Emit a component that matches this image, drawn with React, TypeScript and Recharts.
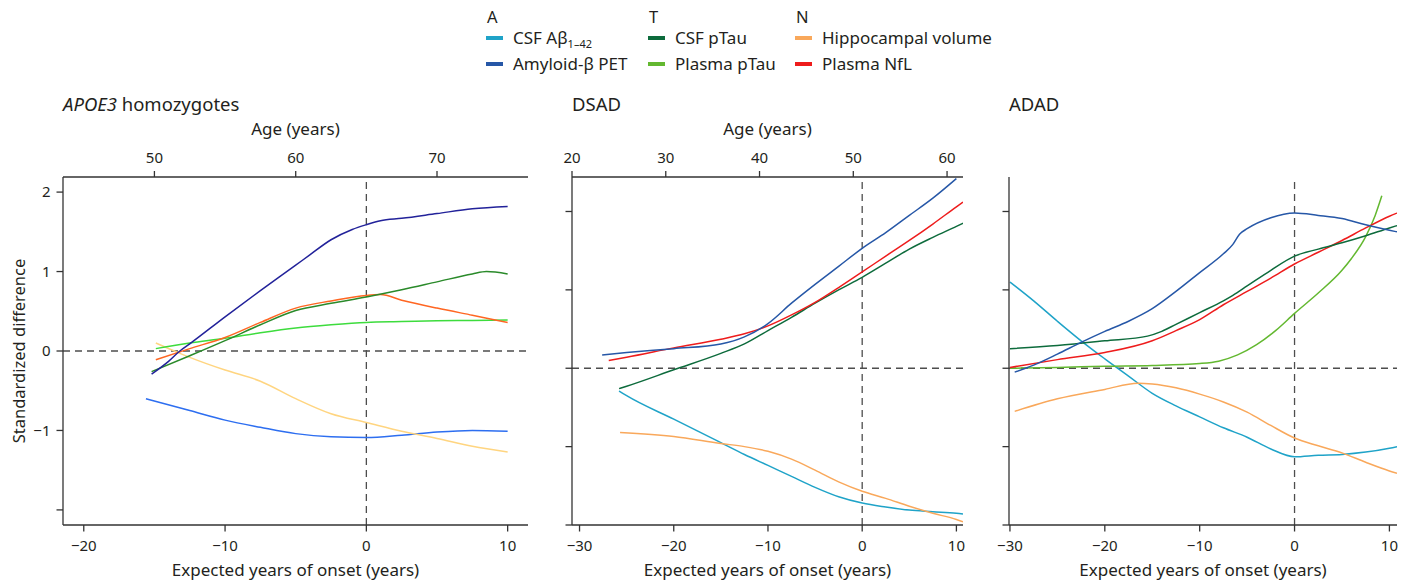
import React from 'react';
import { LineChart, Line, XAxis, YAxis, ReferenceLine } from 'recharts';

const FONT = '"Noto Sans", "Open Sans", sans-serif';
const INK = '#231f20';
const AXIS = '#333333';

type Pt = { x: number; y: number };
const pts = (rows: number[][]): Pt[] => rows.map(([x, y]) => ({ x, y }));

// ---- APOE3 homozygotes (expected years of onset, standardized difference)
const apoeAmyloidPet = pts([[-15.2, -0.29], [-14, -0.13], [-13.2, 0], [-12.5, 0.09], [-10, 0.43], [-7.5, 0.76], [-5, 1.08], [-4, 1.21], [-2.5, 1.4], [-1, 1.53], [0, 1.59], [1, 1.64], [2.5, 1.67], [5, 1.73], [7.5, 1.79], [10, 1.82]]);
const apoeCsfAb = pts([[-15.6, -0.6], [-12.5, -0.75], [-10, -0.87], [-7.5, -0.96], [-5, -1.04], [-2.5, -1.08], [0, -1.09], [2.5, -1.06], [5, -1.02], [7.5, -1.0], [10, -1.01]]);
const apoeHippo = pts([[-14.9, 0.1], [-13.2, -0.03], [-12.5, -0.08], [-10, -0.24], [-7.5, -0.38], [-5, -0.6], [-2.5, -0.79], [0, -0.9], [2.5, -1.01], [5, -1.1], [7.5, -1.2], [10, -1.27]]);
const apoeNfl = pts([[-14.9, -0.11], [-12.5, 0.03], [-10, 0.17], [-7.5, 0.36], [-5, 0.54], [-2.5, 0.63], [0, 0.7], [1, 0.71], [2.5, 0.64], [5, 0.54], [7.5, 0.45], [10, 0.36]]);
const apoeCsfPtau = pts([[-15.2, -0.26], [-12.5, -0.06], [-10, 0.13], [-7.5, 0.33], [-5, 0.51], [-2.5, 0.6], [0, 0.68], [2.5, 0.77], [5, 0.87], [7.5, 0.97], [8.5, 1.0], [10, 0.97]]);
const apoePlasmaPtau = pts([[-14.9, 0.03], [-12.5, 0.1], [-10, 0.16], [-7.5, 0.23], [-5, 0.29], [-2.5, 0.33], [0, 0.36], [2.5, 0.37], [5, 0.38], [7.5, 0.385], [10, 0.39]]);

// ---- DSAD
const dsadAmyloidPet = pts([[-27.6, 0.17], [-25, 0.2], [-20, 0.25], [-15, 0.31], [-12.5, 0.4], [-10, 0.57], [-7.5, 0.83], [-5, 1.07], [-2.5, 1.3], [0, 1.53], [2.5, 1.73], [5, 1.95], [7.5, 2.17], [10, 2.42]]);
const dsadNfl = pts([[-26.9, 0.1], [-25, 0.14], [-20, 0.26], [-15, 0.37], [-12.5, 0.44], [-10, 0.54], [-7.5, 0.68], [-5, 0.84], [-2.5, 1.03], [0, 1.23], [2.5, 1.43], [5, 1.63], [7.5, 1.84], [10, 2.06], [10.7, 2.12]]);
const dsadCsfPtau = pts([[-25.8, -0.26], [-25, -0.23], [-20, -0.02], [-15, 0.19], [-12.5, 0.31], [-10, 0.48], [-7.5, 0.65], [-5, 0.83], [-2.5, 1.0], [0, 1.16], [2.5, 1.34], [5, 1.52], [7.5, 1.67], [10, 1.81], [10.7, 1.85]]);
const dsadCsfAb = pts([[-25.8, -0.29], [-25, -0.35], [-20, -0.65], [-15, -0.95], [-12.5, -1.1], [-10, -1.24], [-7.5, -1.38], [-5, -1.52], [-2.5, -1.64], [0, -1.72], [2.5, -1.77], [5, -1.81], [7.5, -1.83], [10, -1.85], [10.7, -1.86]]);
const dsadHippo = pts([[-25.7, -0.82], [-20, -0.87], [-15, -0.96], [-12.5, -1.0], [-10, -1.06], [-7.5, -1.16], [-5, -1.3], [-2.5, -1.45], [0, -1.57], [2.5, -1.66], [5, -1.76], [7.5, -1.85], [10, -1.93], [10.7, -1.96]]);

// ---- ADAD
const adadAmyloidPet = pts([[-29.5, -0.05], [-27.5, 0.04], [-25, 0.18], [-22.5, 0.33], [-20, 0.47], [-17.5, 0.6], [-15, 0.76], [-12.5, 0.98], [-10, 1.22], [-7.5, 1.46], [-6.5, 1.58], [-5.8, 1.71], [-5, 1.78], [-2.5, 1.92], [0, 1.98], [2.5, 1.95], [5, 1.91], [7.5, 1.83], [10, 1.76], [10.8, 1.74]]);
const adadCsfPtau = pts([[-30, 0.25], [-25, 0.29], [-20, 0.35], [-15.5, 0.41], [-14, 0.47], [-12.5, 0.56], [-10, 0.71], [-7.5, 0.86], [-6.5, 0.93], [-5, 1.05], [-2.5, 1.25], [0, 1.43], [2.5, 1.52], [5, 1.6], [7.5, 1.69], [10, 1.79], [10.8, 1.82]]);
const adadNfl = pts([[-30, 0.01], [-25, 0.11], [-20, 0.2], [-15, 0.35], [-12.5, 0.48], [-10, 0.62], [-7.5, 0.81], [-5, 0.98], [-2.5, 1.15], [0, 1.33], [2.5, 1.48], [5, 1.63], [7.5, 1.79], [10, 1.94], [10.8, 1.98]]);
const adadPlasmaPtau = pts([[-30, 0.0], [-25, 0.01], [-20, 0.025], [-15, 0.035], [-10, 0.06], [-8, 0.09], [-6, 0.17], [-4, 0.3], [-2, 0.48], [0, 0.7], [2.5, 0.96], [5, 1.25], [6, 1.4], [7.5, 1.68], [8.5, 1.95], [9.2, 2.2]]);
const adadCsfAb = pts([[-30, 1.1], [-27.5, 0.86], [-25, 0.6], [-22.5, 0.35], [-20, 0.12], [-17.5, -0.1], [-15, -0.32], [-12.5, -0.48], [-10, -0.62], [-7.5, -0.76], [-5, -0.88], [-2.5, -1.03], [0, -1.13], [2.5, -1.11], [5, -1.1], [7.5, -1.07], [10, -1.02], [10.8, -1.0]]);
const adadHippo = pts([[-29.5, -0.55], [-25, -0.39], [-20, -0.27], [-16.5, -0.19], [-15, -0.2], [-12.5, -0.25], [-10, -0.33], [-7.5, -0.43], [-5, -0.56], [-2.5, -0.73], [0, -0.89], [2.5, -0.99], [5, -1.08], [7.5, -1.2], [10, -1.31], [10.8, -1.34]]);

// legend colours (DSAD / ADAD), APOE3 panel uses its own palette
const C = {
  csfAb: '#1fa3c8',
  pet: '#2657a7',
  csfPtau: '#0d6b3c',
  plasmaPtau: '#63b830',
  hippo: '#f9a85b',
  nfl: '#ee1c1c',
};
const APOE_C = {
  csfAb: '#2d6ef0',
  pet: '#22229a',
  csfPtau: '#2a8a2a',
  plasmaPtau: '#3ddc3d',
  hippo: '#ffd580',
  nfl: '#ff6622',
};

const legendGroups = [
  { head: 'A', x: 486, items: [{ label: 'CSF Aβ', sub: '1–42', color: C.csfAb }, { label: 'Amyloid-β PET', color: C.pet }] },
  { head: 'T', x: 648, items: [{ label: 'CSF pTau', color: C.csfPtau }, { label: 'Plasma pTau', color: C.plasmaPtau }] },
  { head: 'N', x: 795, items: [{ label: 'Hippocampal volume', color: C.hippo }, { label: 'Plasma NfL', color: C.nfl }] },
];

const xTicksApoe = [-20, -10, 0, 10];
const xTicksWide = [-30, -20, -10, 0, 10];
const yTicks = [-2, -1, 0, 1, 2];
const ageTicksApoe = [50, 60, 70];
const ageTicksDsad = [20, 30, 40, 50, 60];

const minus = (v: number) => (v < 0 ? `\u2212${Math.abs(v)}` : String(v));

type Series = { name: string; color: string; data: Pt[] };

interface PanelProps {
  left: number;
  width: number;
  title: React.ReactNode;
  series: Series[];
  xDomain: [number, number];
  xTicks: number[];
  yDomain: [number, number];
  yAxisWidth: number;
  marginRight: number;
  ageDomain?: [number, number];
  ageTicks?: number[];
  yLabels?: boolean;
}

function Panel({ left, width, title, series, xDomain, xTicks, yDomain, yAxisWidth, marginRight, ageDomain, ageTicks, yLabels }: PanelProps) {
  const tickStyle = { fontSize: 15, fill: INK, fontFamily: FONT };
  return (
    <div style={{ position: 'absolute', left, top: 80 }}>
      <div style={{ position: 'absolute', left: yAxisWidth, top: 12, fontSize: 18.5, lineHeight: '24px', whiteSpace: 'nowrap', color: INK }}>
        {title}
      </div>
      <LineChart width={width} height={500} margin={{ top: ageDomain ? 57 : 97, right: marginRight, bottom: 0, left: 0 }}>
        <XAxis
          xAxisId="eyo"
          dataKey="x"
          type="number"
          domain={xDomain}
          ticks={xTicks}
          allowDataOverflow
          height={55}
          tickSize={6.5}
          tickMargin={8.5}
          tick={tickStyle}
          tickFormatter={minus}
          stroke={AXIS}
          strokeWidth={1.3}
          label={{ value: 'Expected years of onset (years)', position: 'insideBottom', offset: 4, fontSize: 17, fill: INK, fontFamily: FONT }}
        />
        {ageDomain && (
          <XAxis
            xAxisId="age"
            dataKey="x"
            orientation="top"
            type="number"
            domain={ageDomain}
            ticks={ageTicks}
            allowDataOverflow
            height={40}
            tickSize={6}
            tickMargin={8}
            tick={tickStyle}
            stroke={AXIS}
            strokeWidth={1.3}
            label={{ value: 'Age (years)', position: 'top', offset: 2, fontSize: 17, fill: INK, fontFamily: FONT }}
          />
        )}
        <YAxis
          type="number"
          domain={yDomain}
          ticks={yTicks}
          allowDataOverflow
          width={yAxisWidth}
          tickSize={6.5}
          tickMargin={6}
          tick={tickStyle}
          tickFormatter={(v: number) => (yLabels && v !== -2 ? minus(v) : '')}
          stroke={AXIS}
          strokeWidth={1.3}
          label={yLabels ? { value: 'Standardized difference', angle: -90, position: 'insideLeft', offset: 19, fontSize: 16.5, fill: INK, fontFamily: FONT, style: { textAnchor: 'middle' } } : undefined}
        />
        <ReferenceLine xAxisId="eyo" y={0} stroke="#4d4d4d" strokeWidth={1.3} strokeDasharray="7 5" />
        <ReferenceLine xAxisId="eyo" x={0} stroke="#4d4d4d" strokeWidth={1.3} strokeDasharray="7 5" />
        {ageDomain && ageTicks && (
          // invisible carrier so the top age axis gets a scale
          <Line
            xAxisId="age"
            data={ageTicks.map((a) => ({ x: a, y: 0 }))}
            dataKey="y"
            stroke="none"
            dot={false}
            activeDot={false}
            legendType="none"
            isAnimationActive={false}
          />
        )}
        {series.map((s) => (
          <Line
            key={s.name}
            xAxisId="eyo"
            data={s.data}
            dataKey="y"
            name={s.name}
            type="monotone"
            stroke={s.color}
            strokeWidth={1.5}
            dot={false}
            activeDot={false}
            isAnimationActive={false}
          />
        ))}
      </LineChart>
    </div>
  );
}

export default function App() {
  const apoeSeries: Series[] = [
    { name: 'CSF Aβ1–42', color: APOE_C.csfAb, data: apoeCsfAb },
    { name: 'Hippocampal volume', color: APOE_C.hippo, data: apoeHippo },
    { name: 'Plasma pTau', color: APOE_C.plasmaPtau, data: apoePlasmaPtau },
    { name: 'Plasma NfL', color: APOE_C.nfl, data: apoeNfl },
    { name: 'CSF pTau', color: APOE_C.csfPtau, data: apoeCsfPtau },
    { name: 'Amyloid-β PET', color: APOE_C.pet, data: apoeAmyloidPet },
  ];
  const dsadSeries: Series[] = [
    { name: 'CSF Aβ1–42', color: C.csfAb, data: dsadCsfAb },
    { name: 'Hippocampal volume', color: C.hippo, data: dsadHippo },
    { name: 'CSF pTau', color: C.csfPtau, data: dsadCsfPtau },
    { name: 'Plasma NfL', color: C.nfl, data: dsadNfl },
    { name: 'Amyloid-β PET', color: C.pet, data: dsadAmyloidPet },
  ];
  const adadSeries: Series[] = [
    { name: 'CSF Aβ1–42', color: C.csfAb, data: adadCsfAb },
    { name: 'Hippocampal volume', color: C.hippo, data: adadHippo },
    { name: 'Plasma pTau', color: C.plasmaPtau, data: adadPlasmaPtau },
    { name: 'Plasma NfL', color: C.nfl, data: adadNfl },
    { name: 'CSF pTau', color: C.csfPtau, data: adadCsfPtau },
    { name: 'Amyloid-β PET', color: C.pet, data: adadAmyloidPet },
  ];

  return (
    <div style={{ position: 'relative', width: 1407, height: 581, background: '#fff', fontFamily: FONT, color: INK, overflow: 'hidden' }}>
      <style>{'body{margin:0}'}</style>

      {/* legend */}
      {legendGroups.map((g) => (
        <div key={g.head} style={{ position: 'absolute', left: g.x, top: 0 }}>
          <div style={{ position: 'absolute', left: 1, top: 6, fontSize: 16.5, lineHeight: '22px' }}>{g.head}</div>
          {g.items.map((it, i) => (
            <div key={it.label} style={{ position: 'absolute', left: 0, top: 27 + i * 26, display: 'flex', alignItems: 'center', whiteSpace: 'nowrap', height: 22 }}>
              <span style={{ display: 'inline-block', width: 17, height: 4, background: it.color, marginRight: 10 }} />
              <span style={{ fontSize: 17, lineHeight: '22px' }}>
                {it.label}
                {it.sub && <sub style={{ fontSize: 11, lineHeight: 0 }}>{it.sub}</sub>}
              </span>
            </div>
          ))}
        </div>
      ))}

      <Panel
        left={0}
        width={540}
        title={<><i>APOE3</i> homozygotes</>}
        series={apoeSeries}
        xDomain={[-21.47, 11.44]}
        xTicks={xTicksApoe}
        yDomain={[-2.19, 2.19]}
        yAxisWidth={63}
        marginRight={12}
        ageDomain={[43.53, 76.44]}
        ageTicks={ageTicksApoe}
        yLabels
      />
      <Panel
        left={540}
        width={440}
        title="DSAD"
        series={dsadSeries}
        xDomain={[-30.8, 10.7]}
        xTicks={xTicksWide}
        yDomain={[-2.0, 2.44]}
        yAxisWidth={32}
        marginRight={17}
        ageDomain={[20, 61.7]}
        ageTicks={ageTicksDsad}
      />
      <Panel
        left={980}
        width={427}
        title="ADAD"
        series={adadSeries}
        xDomain={[-30.1, 10.8]}
        xTicks={xTicksWide}
        yDomain={[-2.0, 2.44]}
        yAxisWidth={29}
        marginRight={10}
      />
    </div>
  );
}
